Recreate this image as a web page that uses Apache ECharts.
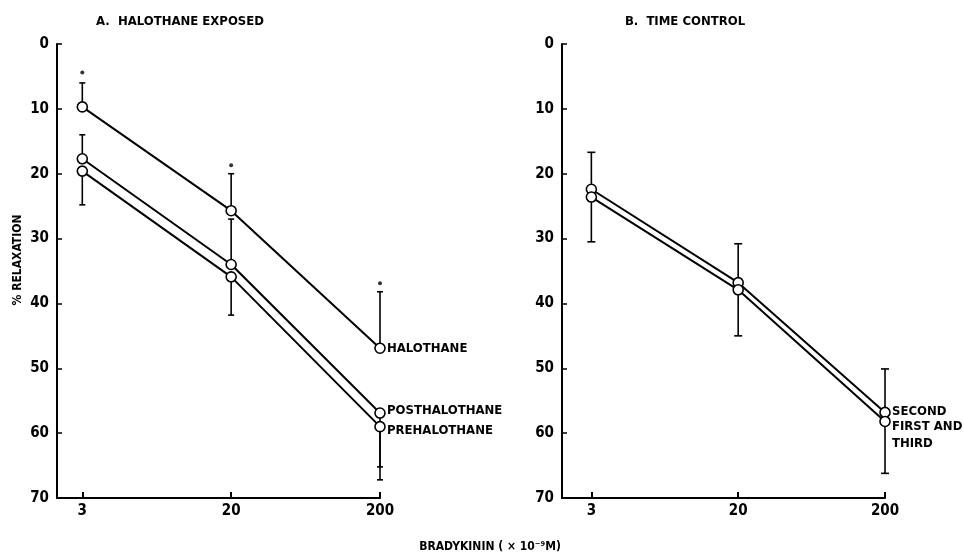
<!DOCTYPE html>
<html>
<head>
<meta charset="utf-8">
<script src="https://cdn.jsdelivr.net/npm/echarts@6/dist/echarts.min.js"></script>
<style>
html,body{margin:0;padding:0;background:#fff;}
#chart{width:964px;height:555px;}
</style>
</head>
<body>
<div id="chart"></div>
<script>
// ---- data ----
const doseLabels = ['3', '20', '200'];
const doseIndex = [0, 1, 2];
const yTicks = [0, 10, 20, 30, 40, 50, 60, 70];

// Panel A: halothane exposed (% relaxation)
const halothane = [9.7, 25.7, 46.9];
const posthalothane = [17.7, 34.0, 56.9];
const prehalothane = [19.6, 35.9, 59.0];
const halothaneErrEnd = [6.0, 20.0, 38.2];
const posthalothaneErrEnd = [14.0, 27.0, 65.2];
const prehalothaneErrEnd = [24.8, 41.8, 67.2];
const significance = [4.4, 18.7, 36.9];

// Panel B: time control
const second = [22.4, 36.8, 56.8];
const firstAndThird = [23.6, 37.9, 58.2];
const timeErrTop = [16.7, 30.8, 50.1];
const timeErrBottom = [30.5, 45.0, 66.2];

const FONT = '"DejaVu Sans Condensed", "Liberation Sans Narrow", "Liberation Sans", sans-serif';

function pairs(vals) { return vals.map((v, i) => [doseIndex[i], v]); }
function errData(centers, ends) { return centers.map((c, i) => [doseIndex[i], c, ends[i]]); }

function errSeries(idx, data, cap) {
  return {
    type: 'custom', xAxisIndex: idx, yAxisIndex: idx, z: 1, silent: true,
    data: data,
    renderItem: function (params, api) {
      const x = api.value(0);
      const p1 = api.coord([x, api.value(1)]);
      const p2 = api.coord([x, api.value(2)]);
      const st = { stroke: '#000', lineWidth: 1.6 };
      return {
        type: 'group',
        children: [
          { type: 'line', shape: { x1: p1[0], y1: p1[1], x2: p2[0], y2: p2[1] }, style: st },
          { type: 'line', shape: { x1: p2[0] - cap, y1: p2[1], x2: p2[0] + cap, y2: p2[1] }, style: st }
        ]
      };
    }
  };
}

function lineSeries(idx, name, vals, labelOffset) {
  return {
    type: 'line', name: name, xAxisIndex: idx, yAxisIndex: idx, z: 3,
    data: pairs(vals),
    symbol: 'circle', symbolSize: 10,
    itemStyle: { color: '#fff', borderColor: '#000', borderWidth: 1.6 },
    lineStyle: { color: '#000', width: 2 },
    emphasis: { disabled: true },
    endLabel: {
      show: true, formatter: name, color: '#000', fontFamily: FONT,
      fontWeight: 'bold', fontSize: 13, distance: 7, lineHeight: 17,
      offset: labelOffset || [0, 0]
    }
  };
}

function xAxis(gridIdx, min) {
  return {
    type: 'value', gridIndex: gridIdx, min: min, max: 2, position: 'bottom',
    axisLine: { show: true, onZero: false, lineStyle: { color: '#000', width: 2 } },
    axisTick: { show: true, inside: true, length: 6, customValues: doseIndex, lineStyle: { color: '#000', width: 2 } },
    axisLabel: {
      show: true, customValues: doseIndex, color: '#000', fontFamily: FONT, fontWeight: 'bold', fontSize: 15, margin: 6,
      formatter: function (v) { const i = doseIndex.indexOf(Math.round(v)); return i >= 0 ? doseLabels[i] : ''; }
    },
    splitLine: { show: false }
  };
}

function yAxis(gridIdx) {
  return {
    type: 'value', gridIndex: gridIdx, inverse: true, position: 'left',
    min: yTicks[0], max: yTicks[yTicks.length - 1], interval: 10,
    axisLine: { show: true, onZero: false, lineStyle: { color: '#000', width: 2 } },
    axisTick: { show: true, inside: true, length: 5, lineStyle: { color: '#000', width: 1.5 } },
    axisLabel: { color: '#000', fontFamily: FONT, fontWeight: 'bold', fontSize: 15, margin: 8 },
    splitLine: { show: false }
  };
}

const chart = echarts.init(document.getElementById('chart'), null, { renderer: 'canvas' });
chart.setOption({
  backgroundColor: '#fff',
  animation: false,
  title: [
    { text: 'A.  HALOTHANE EXPOSED', left: 175, top: 10, textAlign: 'center',
      textStyle: { color: '#000', fontFamily: FONT, fontWeight: 'bold', fontSize: 13 } },
    { text: 'B.  TIME CONTROL', left: 680, top: 10, textAlign: 'center',
      textStyle: { color: '#000', fontFamily: FONT, fontWeight: 'bold', fontSize: 13 } }
  ],
  grid: [
    { left: 57, top: 44, width: 323, height: 454, containLabel: false },
    { left: 562, top: 44, width: 323, height: 454, containLabel: false }
  ],
  xAxis: [xAxis(0, -0.17), xAxis(1, -0.2)],
  yAxis: [yAxis(0), yAxis(1)],
  graphic: [
    { type: 'text', x: 18, y: 260, rotation: Math.PI / 2,
      style: { text: '% RELAXATION', fill: '#000', font: 'bold 12px ' + FONT, align: 'center', verticalAlign: 'middle' } },
    { type: 'text', x: 490, y: 547,
      style: { text: 'BRADYKININ ( × 10⁻⁹M)', fill: '#000', font: 'bold 12px ' + FONT, align: 'center', verticalAlign: 'middle' } }
  ],
  series: [
    errSeries(0, errData(halothane, halothaneErrEnd), 3),
    errSeries(0, errData(posthalothane, posthalothaneErrEnd), 3),
    errSeries(0, errData(prehalothane, prehalothaneErrEnd), 3),
    {
      type: 'scatter', xAxisIndex: 0, yAxisIndex: 0, data: pairs(significance),
      symbol: 'circle', symbolSize: 4, itemStyle: { color: '#000' }, silent: true
    },
    lineSeries(0, 'HALOTHANE', halothane),
    lineSeries(0, 'POSTHALOTHANE', posthalothane, [0, -2]),
    lineSeries(0, 'PREHALOTHANE', prehalothane, [0, 4]),
    errSeries(1, errData(second, timeErrTop), 4),
    errSeries(1, errData(firstAndThird, timeErrBottom), 4),
    lineSeries(1, 'SECOND', second, [0, -1]),
    lineSeries(1, 'FIRST AND\nTHIRD', firstAndThird, [0, 14])
  ]
});
</script>
</body>
</html>
